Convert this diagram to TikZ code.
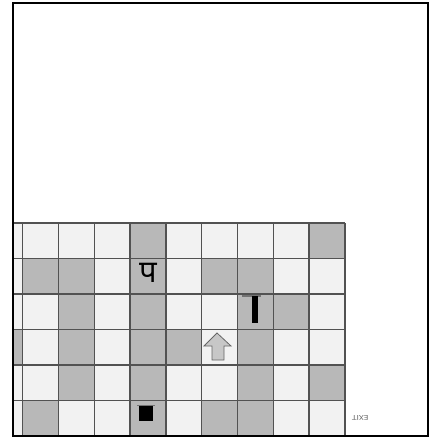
\documentclass[tikz,border=0pt]{standalone}
\usepackage{fontspec}
\newfontfamily\deva[Script=Devanagari]{Noto Sans}
\begin{document}
\begin{tikzpicture}[x=1pt,y=-1pt,
  cellgray/.style={fill=black!28},
  celllight/.style={fill=black!5},
  gridline/.style={draw=black!68,line width=1.3pt},
  framebox/.style={draw=black,line width=2pt},
  bar/.style={draw=black!55,line width=1.2pt}]
\useasboundingbox (0,0) rectangle (434,438);
\fill[white] (0,0) rectangle (434,438);
\def\cw{35.8}\def\rh{35.5}\def\gx{22.7}\def\gy{223}
\begin{scope}
\clip (13,3) rectangle (428,436);
% light background of grid
\fill[celllight] (0,\gy) rectangle (\gx+9*\cw,\gy+6*\rh);
% gray cells: row/col list
\foreach \r/\c in {0/3,0/8,
  1/0,1/1,1/3,1/5,1/6,
  2/1,2/3,2/6,2/7,
  3/-1,3/1,3/3,3/4,3/6,
  4/1,4/3,4/6,4/8,
  5/0,5/3,5/5,5/6}
  \fill[cellgray] (\gx+\c*\cw,\gy+\r*\rh) rectangle (\gx+\c*\cw+\cw,\gy+\r*\rh+\rh);
% grid lines
\foreach \i in {0,...,9}
  \draw[gridline] (\gx+\i*\cw,\gy) -- (\gx+\i*\cw,\gy+6*\rh);
\foreach \j in {0,...,6}
  \draw[gridline] (0,\gy+\j*\rh) -- (\gx+9*\cw,\gy+\j*\rh);
\end{scope}
% glyph pa
\node[font=\deva\bfseries\fontsize{31}{31}\selectfont,inner sep=0pt,anchor=base] (pa) at (148,282) {प};
% bar glyph
\draw[bar] (242,296) -- (261,296);
\fill[black] (252,296) rectangle (258,323);
% black square
\draw[bar] (137,405.5) -- (155,405.5);
\fill[black] (138.5,406) rectangle (152.5,421);
% arrow
\draw[fill=black!22,draw=black!60,line width=0.8pt]
  (217,333) -- (231,346) -- (224,346) -- (224,360) -- (212,360) -- (212,346) -- (204,346) -- cycle;
% exit label
\node[font=\sffamily\fontsize{7}{7}\selectfont,inner sep=0pt,rotate=180,text=black!65] (exit) at (360,418) {EXIT};
% frame
\draw[framebox] (13,3) rectangle (428,436);
\end{tikzpicture}
\end{document}
